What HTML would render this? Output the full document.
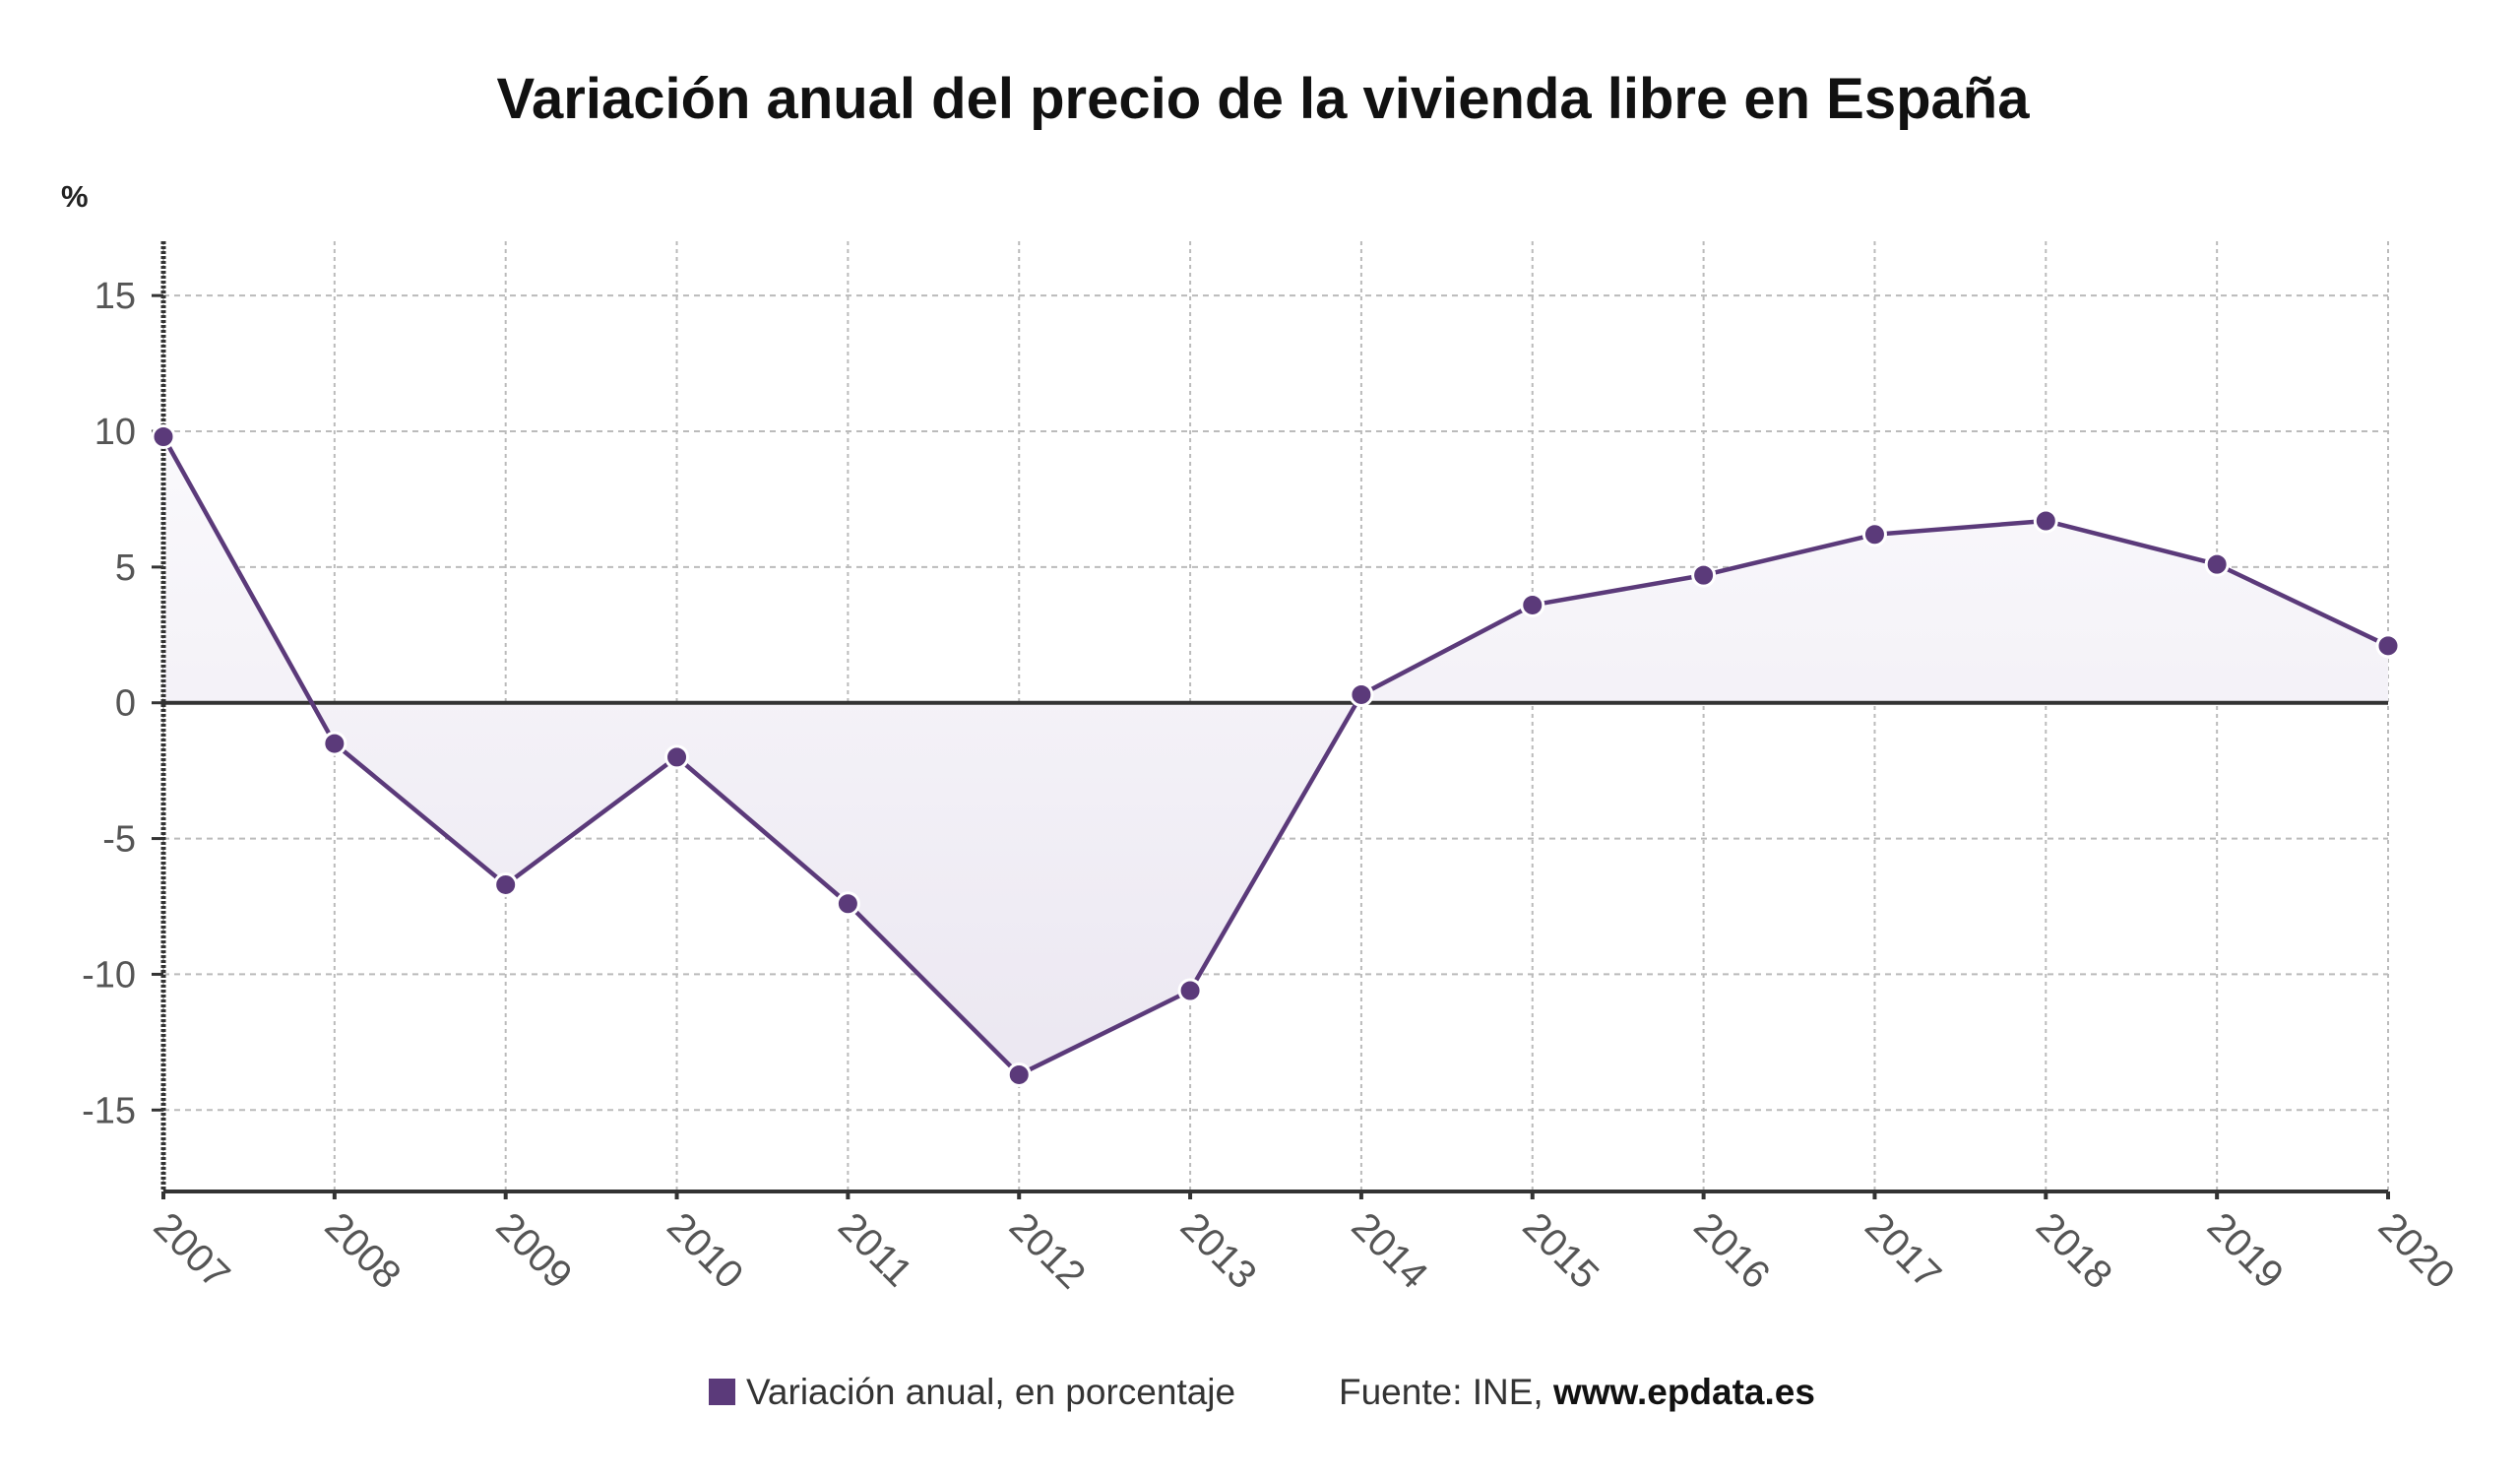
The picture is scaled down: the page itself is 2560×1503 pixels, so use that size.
<!DOCTYPE html>
<html><head><meta charset="utf-8"><style>
html,body{margin:0;padding:0;background:#fff;}
svg{display:block;font-family:"Liberation Sans","DejaVu Sans",sans-serif;}
</style></head><body>
<svg id="chart" width="2560" height="1503" viewBox="0 0 2560 1503">
<defs>
<linearGradient id="areag" gradientUnits="userSpaceOnUse" x1="0" y1="440" x2="0" y2="1100">
<stop offset="0" stop-color="#faf9fc"/><stop offset="1" stop-color="#ebe7f1"/></linearGradient></defs>
<text x="1283" y="120" text-anchor="middle" font-size="58" font-weight="bold" fill="#111">Variación anual del precio de la vivienda libre en España</text>
<text x="62" y="210" font-size="31" font-weight="bold" fill="#222">%</text>
<g id="grid"></g><g id="area"></g><g id="axes"></g><g id="series"></g>
<g>
<rect x="720" y="1400" width="27" height="27" fill="#5b3a7a"/>
<text x="758" y="1426" font-size="37" fill="#333">Variación anual, en porcentaje</text>
<text x="1360" y="1426" font-size="37" fill="#333">Fuente: INE, <tspan font-weight="bold" fill="#111">www.epdata.es</tspan></text>
</g>
</svg>
<script>
const years=["2007","2008","2009","2010","2011","2012","2013","2014","2015","2016","2017","2018","2019","2020"];
const values=[9.8,-1.5,-6.7,-2.0,-7.4,-13.7,-10.6,0.3,3.6,4.7,6.2,6.7,5.1,2.1];
const yTicks=[15,10,5,0,-5,-10,-15];
const NS="http://www.w3.org/2000/svg";
const X0=166,X1=2426,YMIN=-18,YMAX=17,YT=245,YB=1210;
const xs=i=>X0+(X1-X0)*i/(years.length-1);
const ys=v=>YB-(v-YMIN)/(YMAX-YMIN)*(YB-YT);
function mk(p,t,a){const e=document.createElementNS(NS,t);for(const k in a)e.setAttribute(k,a[k]);p.appendChild(e);return e;}
const grid=document.getElementById('grid'),axes=document.getElementById('axes'),area=document.getElementById('area'),ser=document.getElementById('series');
yTicks.forEach(t=>{const y=ys(t);
 if(t!==0){const l=mk(grid,'line',{x1:X0,x2:X1,y1:y,y2:y,stroke:'#bbb','stroke-width':2,'stroke-dasharray':'6 5'});
 
 }
 mk(axes,'line',{x1:X0-12,x2:X0,y1:y,y2:y,stroke:'#333','stroke-width':3});
 const tx=mk(axes,'text',{x:X0-28,y:y+13,'text-anchor':'end','font-size':38,fill:'#555'});tx.textContent=t;
 
 
});
years.forEach((yr,i)=>{const x=xs(i);
 const l=mk(grid,'line',{x1:x,x2:x,y1:YT,y2:YB,stroke:'#bbb','stroke-width':2,'stroke-dasharray':'4 4'});
 
 
 mk(axes,'line',{x1:x,x2:x,y1:YB,y2:YB+8,stroke:'#333','stroke-width':4});
 const tx=mk(axes,'text',{x:0,y:0,'font-size':40,fill:'#555',transform:`translate(${x-12},${YB+38}) rotate(45)`});tx.textContent=yr;
 
 
});
let d=`M${xs(0)},${ys(0)}`;values.forEach((v,i)=>d+=`L${xs(i)},${ys(v)}`);d+=`L${xs(values.length-1)},${ys(0)}Z`;
const ar=mk(area,'path',{d:d,fill:'url(#areag)'});


const zl=mk(axes,'line',{x1:X0,x2:X1,y1:ys(0),y2:ys(0),stroke:'#333','stroke-width':4});


const xa=mk(axes,'line',{x1:X0,x2:X1,y1:YB,y2:YB,stroke:'#333','stroke-width':4});


const ya=mk(axes,'line',{x1:X0,x2:X0,y1:YT,y2:YB,stroke:'#333','stroke-width':5,'stroke-dasharray':'3 2'});


const pts=values.map((v,i)=>`${xs(i)},${ys(v)}`).join(' ');
const pl=mk(ser,'polyline',{points:pts,fill:'none',stroke:'#5b3a7a','stroke-width':4.5,'stroke-linejoin':'round'});


values.forEach((v,i)=>{const c=mk(ser,'circle',{cx:xs(i),cy:ys(v),r:11,fill:'#5b3a7a',stroke:'#fff','stroke-width':3});
 
 });
</script>
</body></html>
